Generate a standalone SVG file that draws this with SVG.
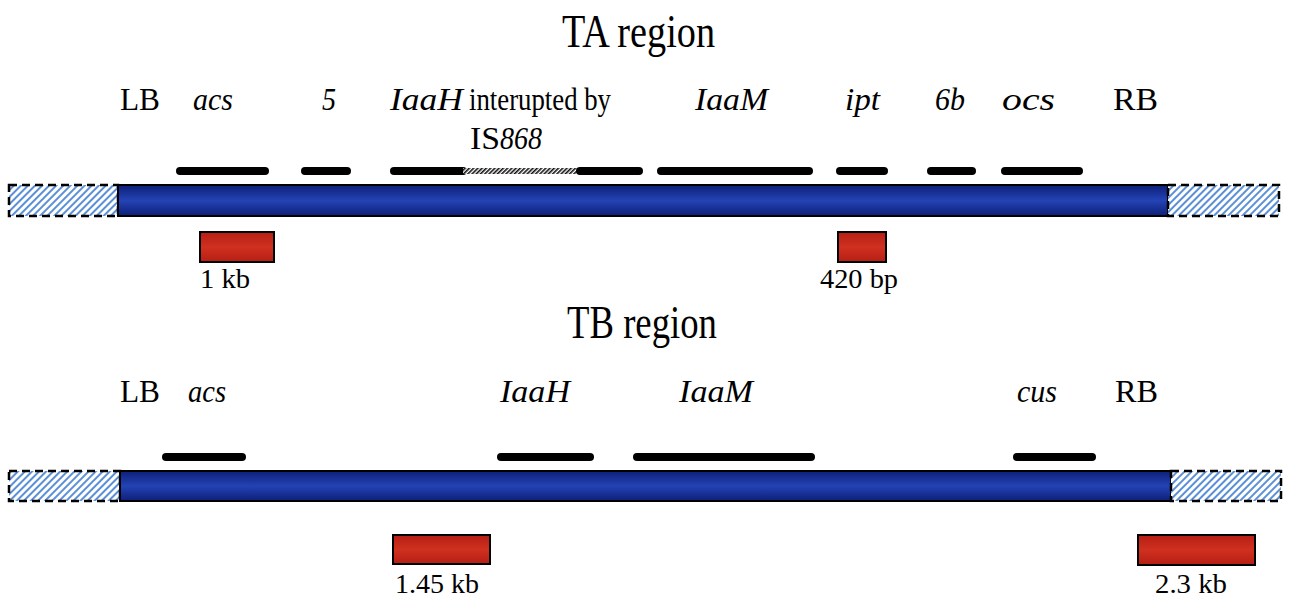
<svg xmlns="http://www.w3.org/2000/svg" width="1289" height="601" viewBox="0 0 1289 601">
<style>
text{font-family:"Liberation Serif","Times New Roman",serif;fill:#000;}
.title{font-size:47px;}
.lab{font-size:31px;}
.it{font-style:italic;}
.sz{font-size:28px;}
.gene{stroke:#000;stroke-width:8;stroke-linecap:round;fill:none;}
.bar{fill:url(#blueG);stroke:#000;stroke-width:2;}
.flank{fill:url(#hatchB);stroke:#000;stroke-width:2.5;stroke-dasharray:8 5;}
.probe{fill:url(#redG);stroke:#000;stroke-width:2;}
</style>
<defs>
<pattern id="hatchB" width="5" height="5" patternUnits="userSpaceOnUse" patternTransform="rotate(45)">
<rect width="5" height="5" fill="#ffffff"/>
<rect width="2" height="5" fill="#5b8fd6"/>
</pattern>
<pattern id="hatchK" width="3" height="3" patternUnits="userSpaceOnUse" patternTransform="rotate(45)">
<rect width="3" height="3" fill="#ffffff"/>
<rect width="1.6" height="3" fill="#111"/>
</pattern>
<linearGradient id="blueG" x1="0" y1="0" x2="0" y2="1">
<stop offset="0" stop-color="#0d1f78"/>
<stop offset="0.5" stop-color="#2443b4"/>
<stop offset="1" stop-color="#0d1f78"/>
</linearGradient>
<linearGradient id="redG" x1="0" y1="0" x2="0" y2="1">
<stop offset="0" stop-color="#b51f14"/>
<stop offset="0.5" stop-color="#d0301f"/>
<stop offset="1" stop-color="#b51f14"/>
</linearGradient>
</defs>
<rect width="1289" height="601" fill="#ffffff"/>

<g id="ta-title"><text class="title" x="562" y="47" textLength="153" lengthAdjust="spacingAndGlyphs">TA region</text></g>
<g id="tb-title"><text class="title" x="567" y="338" textLength="150" lengthAdjust="spacingAndGlyphs">TB region</text></g>

<!-- TA region -->
<g id="ta-construct">
<rect class="flank" x="9" y="185" width="109" height="31"/>
<rect class="bar" x="118" y="185" width="1050" height="31"/>
<rect class="flank" x="1168" y="185" width="111" height="31"/>
</g>
<g id="ta-labels">
<text class="lab" x="120" y="110" textLength="40" lengthAdjust="spacingAndGlyphs">LB</text>
<text class="lab it" x="193" y="110" textLength="40" lengthAdjust="spacingAndGlyphs">acs</text>
<text class="lab it" x="322" y="110" textLength="14" lengthAdjust="spacingAndGlyphs">5</text>
<text class="lab it" x="390" y="110" textLength="73" lengthAdjust="spacingAndGlyphs">IaaH</text>
<text class="lab" x="469" y="110" textLength="142" lengthAdjust="spacingAndGlyphs">interupted by</text>
<text class="lab" x="470" y="149" textLength="30" lengthAdjust="spacingAndGlyphs">IS</text>
<text class="lab it" x="500" y="149" textLength="42" lengthAdjust="spacingAndGlyphs">868</text>
<text class="lab it" x="695" y="110" textLength="73" lengthAdjust="spacingAndGlyphs">IaaM</text>
<text class="lab it" x="845" y="110" textLength="35" lengthAdjust="spacingAndGlyphs">ipt</text>
<text class="lab it" x="935" y="110" textLength="30" lengthAdjust="spacingAndGlyphs">6b</text>
<text class="lab it" x="1002" y="110" textLength="53" lengthAdjust="spacingAndGlyphs">ocs</text>
<text class="lab" x="1113" y="110" textLength="45" lengthAdjust="spacingAndGlyphs">RB</text>
</g>
<g id="ta-genes">
<line class="gene" x1="180" y1="171" x2="265" y2="171"/>
<line class="gene" x1="305" y1="171" x2="347" y2="171"/>
<line class="gene" x1="394" y1="171" x2="463" y2="171"/>
<rect x="463" y="168" width="117" height="6" fill="url(#hatchK)"/>
<line class="gene" x1="580" y1="171" x2="639" y2="171"/>
<line class="gene" x1="661" y1="171" x2="809" y2="171"/>
<line class="gene" x1="840" y1="171" x2="884" y2="171"/>
<line class="gene" x1="931" y1="171" x2="972" y2="171"/>
<line class="gene" x1="1005" y1="171" x2="1079" y2="171"/>
</g>
<g id="ta-probe-1kb">
<rect class="probe" x="200" y="232" width="74" height="30"/>
<text class="sz" x="200" y="288" textLength="50" lengthAdjust="spacingAndGlyphs">1 kb</text>
</g>
<g id="ta-probe-420bp">
<rect class="probe" x="838" y="232" width="48" height="30"/>
<text class="sz" x="820" y="288" textLength="78" lengthAdjust="spacingAndGlyphs">420 bp</text>
</g>

<!-- TB region -->
<g id="tb-construct">
<rect class="flank" x="9" y="471" width="111" height="30"/>
<rect class="bar" x="120" y="471" width="1051" height="30"/>
<rect class="flank" x="1171" y="471" width="110" height="30"/>
</g>
<g id="tb-labels">
<text class="lab" x="120" y="402" textLength="40" lengthAdjust="spacingAndGlyphs">LB</text>
<text class="lab it" x="188" y="402" textLength="38" lengthAdjust="spacingAndGlyphs">acs</text>
<text class="lab it" x="500" y="402" textLength="70" lengthAdjust="spacingAndGlyphs">IaaH</text>
<text class="lab it" x="679" y="402" textLength="74" lengthAdjust="spacingAndGlyphs">IaaM</text>
<text class="lab it" x="1017" y="402" textLength="40" lengthAdjust="spacingAndGlyphs">cus</text>
<text class="lab" x="1115" y="402" textLength="43" lengthAdjust="spacingAndGlyphs">RB</text>
</g>
<g id="tb-genes">
<line class="gene" x1="166" y1="457" x2="242" y2="457"/>
<line class="gene" x1="501" y1="457" x2="590" y2="457"/>
<line class="gene" x1="637" y1="457" x2="811" y2="457"/>
<line class="gene" x1="1017" y1="457" x2="1092" y2="457"/>
</g>
<g id="tb-probe-145kb">
<rect class="probe" x="393" y="535" width="97" height="29"/>
<text class="sz" x="395" y="593" textLength="84" lengthAdjust="spacingAndGlyphs">1.45 kb</text>
</g>
<g id="tb-probe-23kb">
<rect class="probe" x="1138" y="535" width="117" height="30"/>
<text class="sz" x="1155" y="593" textLength="72" lengthAdjust="spacingAndGlyphs">2.3 kb</text>
</g>
<g id="connectors"></g>
</svg>
